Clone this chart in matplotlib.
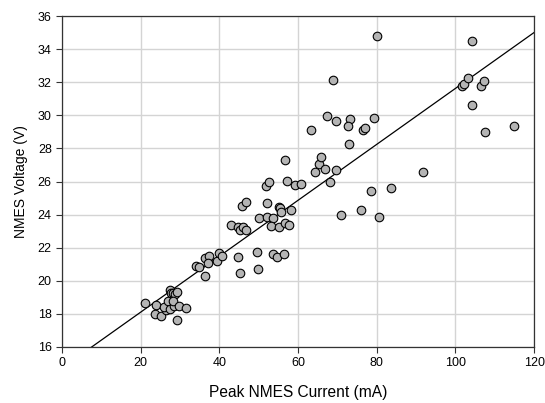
import numpy as np
import matplotlib
matplotlib.use("Agg")
import matplotlib.pyplot as plt

plt.rcParams["font.family"] = ["Liberation Sans", "DejaVu Sans"]

# peak current (mA) and voltage (V)
current_ma = [
    21.1, 23.8, 23.7, 25.2, 26.3, 26.0, 26.8, 27.5, 27.7, 28.3, 28.7, 29.3,
    27.5, 28.5, 28.3, 29.8, 31.5, 29.2,
    34.1, 34.8, 36.4, 37.4, 37.2, 36.4, 39.4, 40.0, 40.7, 42.9, 44.7, 45.3,
    46.1, 46.8, 45.8, 46.7, 44.8, 45.2, 49.6, 49.7, 50.1, 52.1, 51.8, 52.5,
    52.2, 53.6, 53.1, 55.1, 55.2, 55.4, 55.6, 56.7, 57.7, 58.1, 56.6, 57.3,
    59.2, 60.8, 53.5, 54.6, 56.4,
    64.3, 65.4, 65.8, 66.9, 69.6, 68.1, 70.9, 72.9, 63.2, 67.3, 68.9, 69.6,
    73.2, 72.6, 76.5, 77.0, 79.4, 80.1, 76.0, 78.5, 80.6, 83.5, 91.7,
    101.7, 102.2, 103.3, 106.5, 107.3, 104.1, 104.1, 107.6, 114.9,
]
voltage_v = [
    18.68, 18.52, 18.01, 17.89, 18.22, 18.44, 18.76, 19.42, 19.24, 19.28, 19.22, 19.30,
    18.31, 18.48, 18.80, 18.48, 18.36, 17.65,
    20.89, 20.85, 21.36, 21.52, 21.06, 20.27, 21.20, 21.70, 21.50, 23.37, 23.23, 23.07,
    23.27, 23.07, 24.54, 24.74, 21.43, 20.46, 21.77, 20.69, 23.81, 24.70, 25.73, 25.97,
    23.85, 23.77, 23.31, 23.23, 24.48, 24.40, 24.16, 23.51, 23.39, 24.26, 27.30, 26.05,
    25.78, 25.85, 21.64, 21.46, 21.64,
    26.60, 27.05, 27.50, 26.75, 26.70, 26.00, 23.95, 28.30, 29.10, 29.99, 32.12, 29.64,
    29.79, 29.34, 29.10, 29.26, 29.87, 34.80, 24.30, 25.40, 23.85, 25.60, 26.60,
    31.80, 31.90, 32.25, 31.80, 32.05, 30.60, 34.50, 29.00, 29.35,
]

# regression line
fit_slope = 0.169
fit_intercept = 14.73

fig = plt.figure(figsize=(5.45, 4.03), dpi=100)
ax = fig.add_axes([0.114, 0.139, 0.866, 0.821])

ax.grid(True, color="#d4d4d4", linewidth=1.0, zorder=0)
ax.set_axisbelow(True)

xl = np.array([0, 120])
ax.plot(xl, fit_slope * xl + fit_intercept, color="black", linewidth=0.9, zorder=2)
ax.scatter(current_ma, voltage_v, s=38, facecolor="#b4b4b4", edgecolor="black",
           linewidth=0.8, zorder=3)

ax.set_xlim(0, 120)
ax.set_ylim(16, 36)
ax.set_xticks(range(0, 121, 20))
ax.set_yticks(range(16, 37, 2))
ax.tick_params(direction="out", length=4, width=0.8, labelsize=9, color="#333333")
for s in ax.spines.values():
    s.set_color("#333333")
    s.set_linewidth(0.9)

ax.set_xlabel("Peak NMES Current (mA)", fontsize=11.2, labelpad=11)
ax.set_ylabel("NMES Voltage (V)", fontsize=10, labelpad=7)

fig.savefig("out.png", dpi=100)
